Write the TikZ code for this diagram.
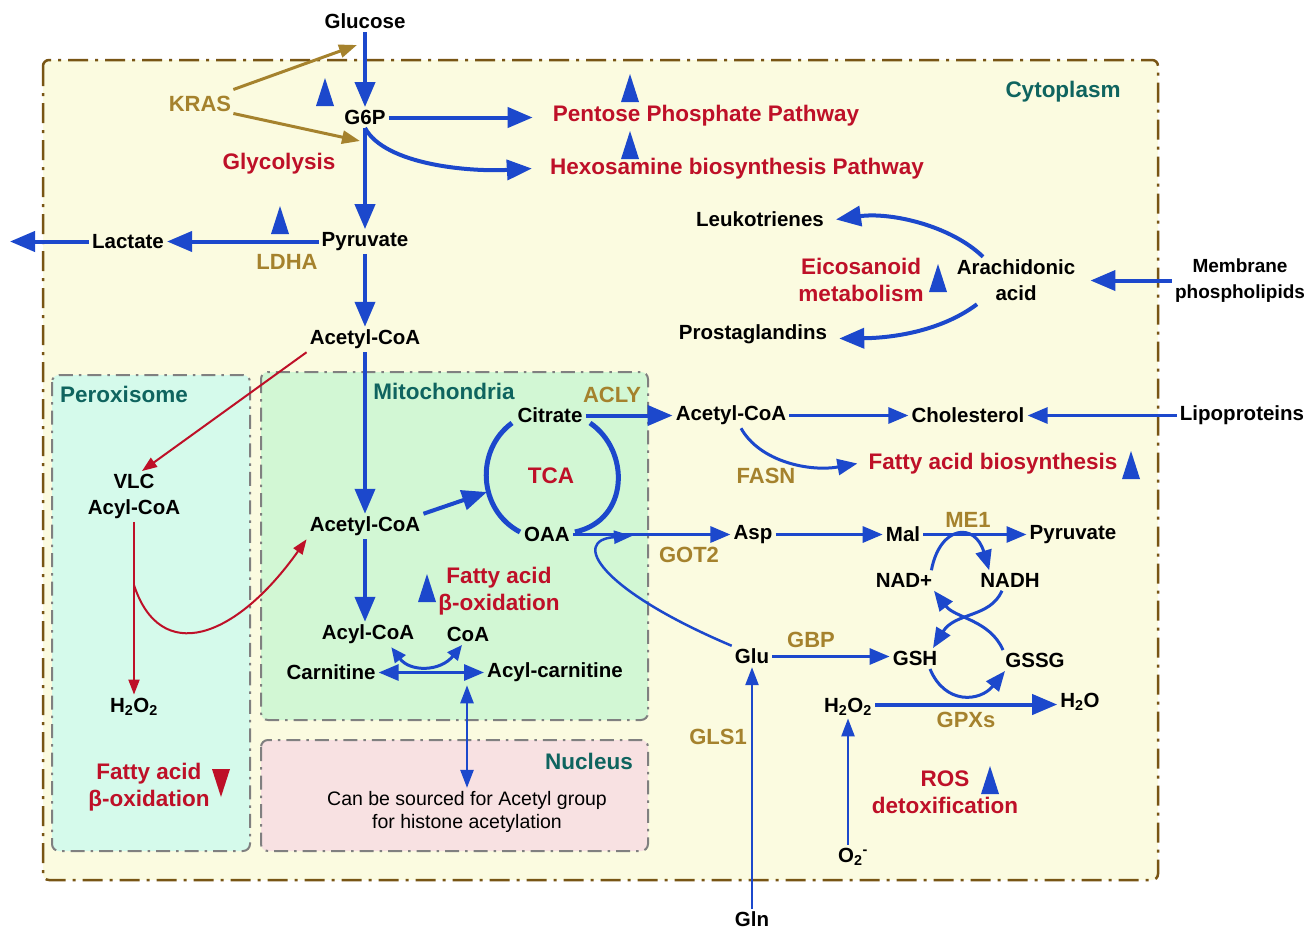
\documentclass[tikz,border=0pt]{standalone}
\usepackage{fontspec}
\setmainfont{Liberation Sans}
\usetikzlibrary{arrows.meta,calc}
\definecolor{flowblue}{RGB}{28,72,204}
\definecolor{pathred}{RGB}{190,16,40}
\definecolor{enzolive}{RGB}{165,130,45}
\definecolor{comptteal}{RGB}{15,100,95}
\definecolor{cytoborder}{RGB}{120,85,20}
\definecolor{boxgray}{RGB}{128,128,128}
\definecolor{cytofill}{RGB}{251,251,224}
\definecolor{perofill}{RGB}{213,250,235}
\definecolor{mitofill}{RGB}{210,247,212}
\definecolor{nucfill}{RGB}{248,225,226}

\begin{document}
\begin{tikzpicture}[x=1pt,y=-1pt,
  molec/.style={font=\fontsize{20.5}{26}\selectfont\bfseries,align=center,inner sep=3pt,yshift=-1.5pt},
  pathway/.style={font=\fontsize{22.5}{27}\selectfont\bfseries,text=pathred,align=center,inner sep=3pt,yshift=-1.5pt},
  enzyme/.style={font=\fontsize{22}{25}\selectfont\bfseries,text=enzolive,inner sep=2pt,yshift=-1.5pt},
  compt/.style={font=\fontsize{22.5}{25}\selectfont\bfseries,text=comptteal,yshift=-1.5pt},
  flow/.style={draw=flowblue,line width=4pt,-{Triangle[length=25pt,width=20pt]}},
  midflow/.style={draw=flowblue,line width=3pt,-{Triangle[length=20pt,width=16pt]}},
  thinflow/.style={draw=flowblue,line width=2.5pt,-{Triangle[length=18pt,width=13pt]}},
  redflow/.style={draw=pathred,line width=2pt,-{Triangle[length=15pt,width=11pt]}},
  krasflow/.style={draw=enzolive,line width=3pt,-{Triangle[length=18pt,width=13pt]}},
  bigbox/.style={draw=cytoborder,line width=2.5pt,rounded corners=6pt,dash pattern=on 20pt off 7pt on 3pt off 7pt},
  organelle/.style={draw=boxgray,line width=2pt,rounded corners=7pt,dash pattern=on 14pt off 6pt on 2.5pt off 6pt}]
\useasboundingbox (0,0) rectangle (1305,929);
\fill[white] (0,0) rectangle (1305,929);
\draw[bigbox,fill=cytofill] (43,60) rectangle (1158,880);
\draw[organelle,fill=perofill] (52,375) rectangle (250,851);
\draw[organelle,fill=mitofill] (261,372) rectangle (648,720);
\draw[organelle,fill=nucfill] (261,740) rectangle (648,851);

\node[compt] (cyto) at (1063,90) {Cytoplasm};
\node[compt] (perolbl) at (124,393) {Peroxisome};
\node[compt] (mitolbl) at (444,390) {Mitochondria};
\node[compt] (nuclbl) at (589,760) {Nucleus};

% glycolysis
\node[molec] (glc) at (365,20) {Glucose};
\node[molec] (g6p) at (365,116) {G6P};
\node[molec] (pyr) at (365,240) {Pyruvate};
\node[molec] (lac) at (128,240) {Lactate};
\node[molec] (acoa) at (365,338) {Acetyl-CoA};
\node[enzyme] (kras) at (200,102) {KRAS};
\node[enzyme] (ldha) at (287,260) {LDHA};
\node[pathway] (glyc) at (279,162) {Glycolysis};
\node[pathway] (ppp) at (706,114) {Pentose Phosphate Pathway};
\node[pathway] (hbp) at (737,167) {Hexosamine biosynthesis Pathway};
\coordinate (lacout) at (10,240);
\coordinate (kglc) at (357,45);
\coordinate (kg6p) at (360,141);

\draw[flow] (glc) -- (g6p);
\draw[flow] (g6p.east) -- ([xshift=-17]g6p.east -| ppp.west);
\draw[flow] (g6p.south) .. controls (385,165) and (470,172) .. ([xshift=-15]hbp.west);
\draw[flow] (g6p.south) -- (pyr.north);
\draw[flow] (pyr.west) -- (lac.east);
\draw[flow] (lac.west) -- (lac.west -| lacout);
\draw[flow] (pyr) -- (acoa);
\draw[krasflow] ([yshift=14]kras.east) -- (kglc);
\draw[krasflow] ([yshift=-10]kras.east) -- (kg6p);

% eicosanoids
\node[molec] (leuko) at (760,218) {Leukotrienes};
\node[molec] (prosta) at (753,333) {Prostaglandins};
\node[molec] (ara) at (1016,279) {Arachidonic\\acid};
\node[molec,font=\fontsize{19}{26}\selectfont\bfseries] (memb) at (1240,279) {Membrane\\phospholipids};
\node[pathway] (eico) at (861,278) {Eicosanoid\\metabolism};
\draw[flow] ([xshift=-33]ara.north) .. controls (950,225) and (890,212) .. ([xshift=9]leuko.east);
\draw[flow] ([xshift=-39]ara.south) .. controls (940,332) and (890,338) .. ([xshift=9,yshift=-4]prosta.east);
\draw[flow] (memb.west) -- ([xshift=12]ara.east);

% peroxisome
\node[molec] (vlc) at (134,495) {VLC\\Acyl-CoA};
\node[molec] (ph2o2) at (134,705) {H\textsubscript{2}O\textsubscript{2}};
\node[pathway] (pfao) at (149,786) {Fatty acid\\β-oxidation};
\coordinate (pbr) at (134,585);

% mitochondria
\node[enzyme] (acly) at (612,393) {ACLY};
\node[molec] (cit) at (550,414) {Citrate};
\node[pathway] (tca) at (551,474) {TCA};
\node[molec] (oaa) at (547,533) {OAA};
\node[molec] (macoa) at (365,525) {Acetyl-CoA};
\node[pathway] (mfao) at (499,590) {Fatty acid\\β-oxidation};
\node[molec] (acylcoa) at (368,633) {Acyl-CoA};
\node[molec] (coa) at (468,633) {CoA};
\node[molec] (carn) at (331,671) {Carnitine};
\node[molec] (acarn) at (555,671) {Acyl-carnitine};
\node[font=\fontsize{19.5}{23}\selectfont,align=center] (histone) at (467,812) {Can be sourced for Acetyl group\\for histone acetylation};
\coordinate (tcain) at (487,492);

\draw[flowblue,line width=5pt] (512,423) .. controls (475,450) and (478,510) .. (520,532);
\draw[flowblue,line width=5pt] (590,423) .. controls (630,450) and (630,520) .. (575,532);
\draw[flow] (acoa.south) -- (macoa.north);
\draw[flow] (macoa.north east) -- (tcain);
\draw[flow] (macoa.south) -- (macoa.south |- acylcoa.north);
\draw[midflow,{Triangle[length=20pt,width=16pt]}-{Triangle[length=20pt,width=16pt]}] (carn.east) -- (acarn.west);
\draw[midflow,{Triangle[length=15pt,width=13pt]}-{Triangle[length=15pt,width=13pt]}] ([xshift=-26]acylcoa.south east) .. controls (410,672) and (440,672) .. ([xshift=-6]coa.south);
\draw[thinflow,{Triangle[length=18pt,width=13pt]}-{Triangle[length=18pt,width=13pt]}] (histone.north |- acarn.south) -- (histone.north);
\draw[redflow] (acoa.south west) -- ([xshift=8]vlc.north);
\draw[redflow] (vlc.south) -- (ph2o2.north);
\draw[redflow] (pbr) .. controls (160,665) and (235,640) .. (macoa.south west);

% lipids and amino acids
\node[molec] (cacoa) at (731,414) {Acetyl-CoA};
\node[molec] (chol) at (968,414) {Cholesterol};
\node[molec] (lipo) at (1242,414) {Lipoproteins};
\node[enzyme] (fasn) at (766,474) {FASN};
\node[pathway] (fab) at (993,462) {Fatty acid biosynthesis};
\node[molec] (asp) at (753,533) {Asp};
\node[enzyme] (got2) at (689,553) {GOT2};
\node[molec] (mal) at (903,533) {Mal};
\node[enzyme] (me1) at (968,518) {ME1};
\node[molec] (pyr2) at (1073,533) {Pyruvate};
\node[molec] (nadp) at (904,579) {NAD+};
\node[molec] (nadh) at (1010,579) {NADH};
\node[molec] (glu) at (752,655) {Glu};
\node[enzyme] (gbp) at (811,638) {GBP};
\node[molec] (gsh) at (915,657) {GSH};
\node[molec] (gssg) at (1035,659) {GSSG};
\node[molec] (hoo) at (848,705) {H\textsubscript{2}O\textsubscript{2}};
\node[molec] (water) at (1080,700) {H\textsubscript{2}O};
\node[enzyme] (gpx) at (966,718) {GPXs};
\node[molec] (supo) at (853,855) {O\textsubscript{2}\textsuperscript{-}};
\node[molec] (gln) at (752,918) {Gln};
\node[enzyme] (gls) at (718,735) {GLS1};
\node[pathway] (ros) at (945,791) {ROS\\detoxification};
\coordinate (gotin) at (632,536);

\draw[flow] (cit.east) -- (cacoa.west);
\draw[midflow] (cacoa.east) -- (chol.west);
\draw[midflow] (lipo.west) -- (chol.east);
\draw[midflow] ([xshift=10]cacoa.south) .. controls (760,462) and (810,472) .. ([xshift=-8]fab.west);
\draw[midflow] (oaa.east) -- (asp.west);
\draw[midflow] (asp.east) -- (mal.west);
\draw[midflow] (mal.east) -- (pyr2.west);
\draw[thinflow] (glu.north west) .. controls (600,590) and (570,540) .. (gotin);
\draw[midflow] (glu.east) -- (glu.east -| gsh.west);
\draw[flow] ([yshift=2]hoo.east) -- ([yshift=2]hoo.east -| water.west);
\draw[thinflow] (hoo.south |- supo.north) -- (hoo.south);
\draw[thinflow] (gln.north) -- (glu.south);
\draw[midflow] ([xshift=-4]nadp.north east) .. controls (940,525) and (975,522) .. ([xshift=12]nadh.north west);
\draw[midflow] ([xshift=-8]nadh.south) .. controls (990,618) and (955,612) .. ([xshift=18]gsh.north);
\draw[midflow] ([xshift=-32]gssg.north) .. controls (990,620) and (955,618) .. ([xshift=30]nadp.south);
\draw[midflow] ([xshift=15]gsh.south) .. controls (945,705) and (980,702) .. ([xshift=-30]gssg.south);

\foreach \x/\y in {325/92,630/88,630/145,280/220,938/278,427/588,1131/465,990/780}
  \fill[flowblue] (\x-9,\y+14) -- (\x,\y-14) -- (\x+9,\y+14) -- cycle;
\fill[pathred] (221-9,783-14) -- (221,783+14) -- (221+9,783-14) -- cycle;
\end{tikzpicture}
\end{document}
